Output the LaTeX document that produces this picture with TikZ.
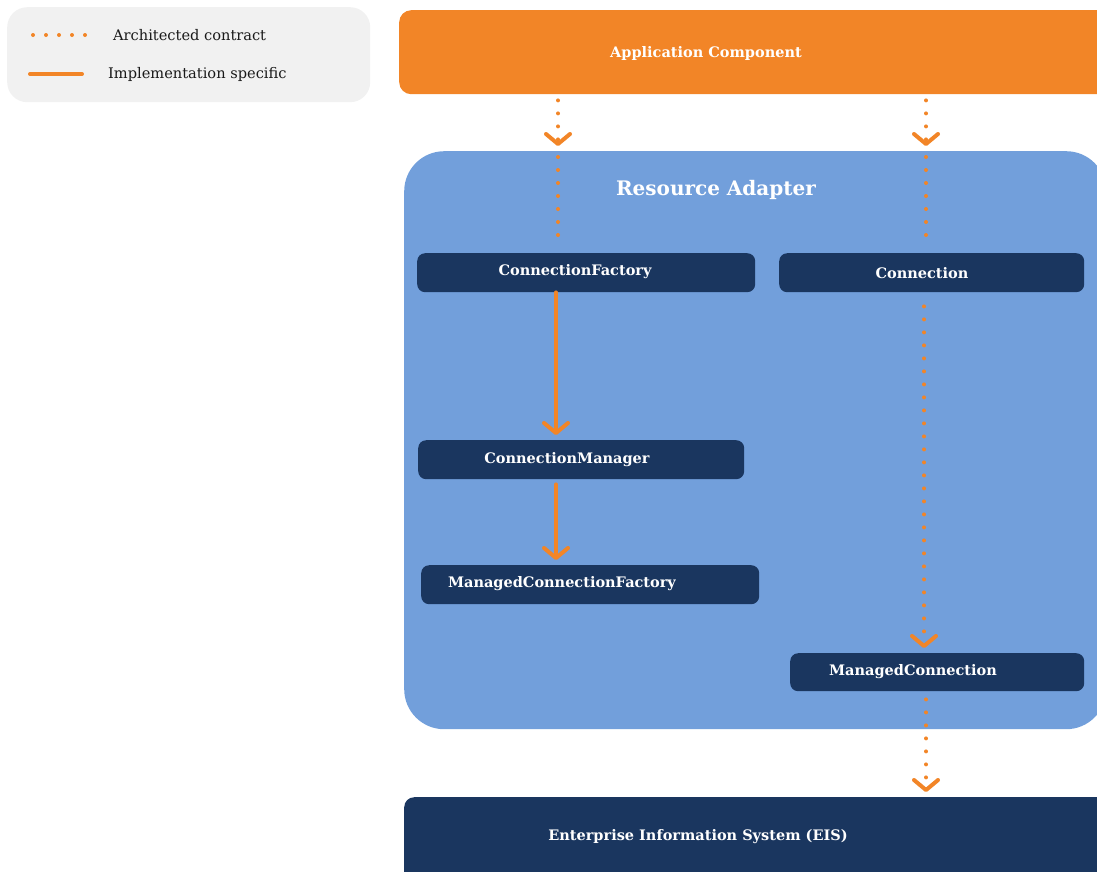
\documentclass[tikz,border=0pt]{standalone}
\usepackage{fontspec}
\setmainfont{DejaVu Serif}
\usetikzlibrary{arrows.meta}
\definecolor{orangeC}{HTML}{F28527}
\definecolor{blueC}{HTML}{729FDB}
\definecolor{navyC}{HTML}{1A365F}
\definecolor{grayC}{HTML}{F1F1F1}
\tikzset{
  box/.style={draw=none, inner sep=0pt, anchor=north west},
  darkbox/.style={box, fill=navyC, rounded corners=8pt},
  boxtext/.style={text=white, font=\bfseries\fontsize{14.5}{16}\selectfont, inner sep=0pt},
  legtext/.style={text=black!90, font=\fontsize{14.6}{16}\selectfont, inner sep=0pt, anchor=west},
  contract/.style={draw=orangeC, line width=4pt, line cap=round, dash pattern=on 0pt off 13pt},
  impl/.style={draw=orangeC, line width=4pt, line cap=round},
  tipC/.style={-{Straight Barb[length=10pt,width=24pt,line width=4pt,round]}},
}
\begin{document}
\begin{tikzpicture}[x=1pt,y=-1pt]
\useasboundingbox (0,0) rectangle (1097,871);
\clip (0,0) rectangle (1097,871);
% legend
\node[box, fill=grayC, rounded corners=20pt, minimum width=363pt, minimum height=95pt] (legend) at (7,7) {};
\coordinate (ld1) at (33,35);
\coordinate (ld2) at (88,35);
\draw[contract] (ld1) -- (ld2);
\node[legtext] (lt1) at (113,35) {Architected contract};
\coordinate (ls1) at (30,74);
\coordinate (ls2) at (82,74);
\draw[impl] (ls1) -- (ls2);
\node[legtext] (lt2) at (108,74) {Implementation specific};
% big boxes
\node[box, fill=orangeC, rounded corners=12pt, minimum width=710pt, minimum height=84pt] (app) at (399,10) {};
\node[boxtext] (appt) at (706,53) {Application Component};
\node[box, fill=blueC, rounded corners=40pt, minimum width=702pt, minimum height=578pt] (ra) at (404,151) {};
\node[boxtext, font=\bfseries\fontsize{20}{23}\selectfont] (rat) at (716,190) {Resource Adapter};
\node[box, fill=navyC, rounded corners=10pt, minimum width=720pt, minimum height=110pt] (eis) at (404,797) {};
\node[boxtext] (eist) at (698,837) {Enterprise Information System (EIS)};
% inner boxes
\node[darkbox, minimum width=338pt, minimum height=39pt] (cf) at (417,253) {};
\node[boxtext] (cft) at (575,272) {ConnectionFactory};
\node[darkbox, minimum width=305pt, minimum height=39pt] (cn) at (779,253) {};
\node[boxtext] (cnt) at (922,273) {Connection};
\node[darkbox, minimum width=326pt, minimum height=39pt] (cm) at (418,440) {};
\node[boxtext] (cmt) at (567,460) {ConnectionManager};
\node[darkbox, minimum width=338pt, minimum height=39pt] (mcf) at (421,565) {};
\node[boxtext] (mcft) at (562,584) {ManagedConnectionFactory};
\node[darkbox, minimum width=294pt, minimum height=38pt] (mc) at (790,653) {};
\node[boxtext] (mct) at (913,672) {ManagedConnection};
% connectors
\coordinate (xL) at (558,0);
\coordinate (xR) at (926,0);
\coordinate (xM) at (556,0);
\coordinate (xC) at (924,0);
\draw[contract, tipC, shorten >=5pt] ([yshift=-6pt]app.south -| xL) -- (ra.north -| xL);
\draw[contract] ([yshift=-6pt]ra.north -| xL) -- ([yshift=5pt]cf.north -| xL);
\draw[contract, tipC, shorten >=5pt] ([yshift=-6pt]app.south -| xR) -- (ra.north -| xR);
\draw[contract] ([yshift=-6pt]ra.north -| xR) -- ([yshift=5pt]cn.north -| xR);
\draw[contract, tipC, shorten >=5pt] ([yshift=-14pt]cn.south -| xC) -- (mc.north -| xC);
\draw[contract, tipC, shorten >=5pt] ([yshift=-8pt]mc.south -| xR) -- (eis.north -| xR);
\draw[impl, tipC, shorten >=5pt] (cf.south -| xM) -- (cm.north -| xM);
\draw[impl, tipC, shorten >=5pt] ([yshift=-5pt]cm.south -| xM) -- (mcf.north -| xM);
\end{tikzpicture}
\end{document}
